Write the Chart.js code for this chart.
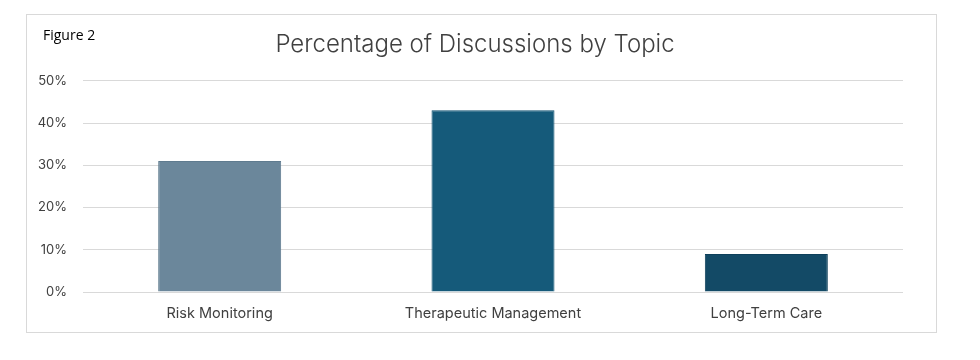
<!DOCTYPE html>
<html lang="en">
<head>
    <meta charset="UTF-8">
    <title>Percentage of Discussions by Topic</title>
    <script src="https://cdn.jsdelivr.net/npm/chart.js"></script>
    <style>
        body {
            margin: 0;
            background: #ffffff;
            font-family: "Inter", "Open Sans", sans-serif;
        }

        .frame {
            position: absolute;
            left: 26px;
            top: 14px;
            width: 909px;
            height: 317px;
            border: 1px solid #d9d9d9;
            background: #ffffff;
        }

        .fig-label {
            position: absolute;
            left: 16px;
            top: 10px;
            font-family: "Open Sans", sans-serif;
            font-size: 14px;
            color: #000000;
            z-index: 2;
        }

        canvas {
            position: absolute;
            left: 0;
            top: 0;
        }
    </style>
</head>
<body>

    <div class="frame">
        <div class="fig-label">Figure 2</div>
        <canvas id="topicChart" width="909" height="317"></canvas>
    </div>

    <script>
        // data
        var topics = ["Risk Monitoring", "Therapeutic Management", "Long-Term Care"];
        var shares = [31, 43, 9];
        var barColors = ["#6b879b", "#155a7a", "#134a66"];
        var barEdges = ["#5f7b8f", "#0f5070", "#0e405b"];
        var yTicks = [0, 10, 20, 30, 40, 50];

        var ctx = document.getElementById("topicChart").getContext("2d");
        var topicChart = new Chart(ctx, {
            type: "bar",
            data: {
                labels: topics,
                datasets: [{
                    data: shares,
                    backgroundColor: barColors,
                    borderColor: barEdges,
                    borderWidth: 1,
                    categoryPercentage: 1,
                    barPercentage: 0.45
                }]
            },
            options: {
                responsive: false,
                animation: false,
                layout: { padding: { left: 0, right: 13, top: 0, bottom: 0 } },
                plugins: {
                    legend: { display: false },
                    tooltip: { enabled: false },
                    title: {
                        display: true,
                        text: "Percentage of Discussions by Topic",
                        color: "#404040",
                        font: { family: "Inter", size: 24, weight: "300" },
                        padding: { top: 15, bottom: 22 }
                    }
                },
                scales: {
                    x: {
                        afterFit: function (scale) { scale.height = 40; },
                        grid: { display: false, drawTicks: false },
                        border: { display: false },
                        ticks: {
                            color: "#404040",
                            font: { family: "Inter", size: 14.5 },
                            padding: 13
                        }
                    },
                    y: {
                        min: 0,
                        max: 50,
                        afterFit: function (scale) { scale.width = 56; },
                        afterBuildTicks: function (scale) {
                            scale.ticks = yTicks.map(function (v) { return { value: v }; });
                        },
                        grid: { color: "#d9d9d9", lineWidth: 1, drawTicks: false },
                        border: { display: false },
                        ticks: {
                            color: "#404040",
                            font: { family: "Inter", size: 13 },
                            padding: 16,
                            callback: function (v) { return v + "%"; }
                        }
                    },
                    // empty spacer on the right so the title sits where it does in the original
                    ySpacer: {
                        type: "linear",
                        position: "right",
                        afterFit: function (scale) { scale.width = 20; },
                        grid: { display: false, drawTicks: false },
                        border: { display: false },
                        ticks: { display: false }
                    }
                }
            }
        });
    </script>

</body>
</html>
